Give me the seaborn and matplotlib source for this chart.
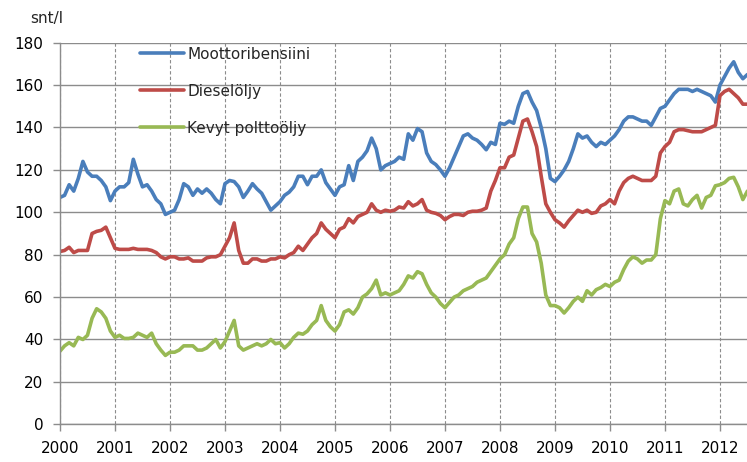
import numpy as np
import pandas as pd
import matplotlib
matplotlib.use("Agg")
import matplotlib.pyplot as plt
import seaborn as sns

# kuukausihinnat snt/l, tammikuu 2000 - heinäkuu 2012
alkuvuosi = 2000
bensiini = [
    107, 108, 113, 110, 116, 124, 119, 117, 117, 115, 112, 105.5,
    110, 112, 112, 114, 125, 118, 112, 113, 110, 106, 104, 99,
    100, 101, 106, 113.5, 112, 108, 111, 109, 111, 109, 106, 104,
    113.5, 115, 114.5, 112, 107, 110, 113.5, 111, 109, 105, 101, 103,
    105, 108, 109.5, 112, 117, 117, 113, 117, 117, 120, 114, 111,
    108, 112, 113, 122, 115, 124, 126, 129, 135, 130, 120, 122,
    123, 124, 126, 125, 137, 134, 139.5, 138, 128, 124, 122.5, 120,
    117, 121, 126, 131, 136, 137, 135, 134, 132, 129.5, 133, 132,
    142, 141.5, 143, 142, 150, 156, 157, 152, 148, 140, 130, 116,
    114.5, 117, 120, 124, 130, 137, 135, 136, 133, 131, 133, 132,
    134, 136, 139, 143, 145, 145, 144, 143, 143, 141, 145, 149,
    150, 153, 156, 158, 158, 158, 157, 158, 157, 156, 155, 152,
    160, 164, 168, 171, 166, 163, 165,
]
diesel = [
    81.5, 82, 83.5, 81, 82, 82, 82, 90, 91, 91.5, 93, 88,
    83, 82.5, 82.5, 82.5, 83, 82.5, 82.5, 82.5, 82, 81, 79, 78,
    79, 79, 78, 78, 78.5, 77, 77, 77, 78.5, 79, 79, 80,
    84, 88, 95, 82, 76, 76, 78, 78, 77, 77, 78, 78,
    79, 78.5, 80, 81, 84, 82, 85, 88, 90, 95, 92, 90,
    88, 92, 93, 97, 95, 98, 99, 100, 104, 101, 100, 101,
    100.5, 101, 102.5, 102, 105, 103, 104, 106, 101, 100, 99.5, 98.5,
    96.5, 98, 99, 99, 98.5, 100, 100.5, 100.5, 101, 102, 110, 115,
    121, 121, 126, 127, 135, 143, 144, 138, 131, 117, 104, 100,
    96.5, 95, 93, 96, 98.5, 101, 100, 101, 99.5, 100, 103, 104,
    106, 104, 110, 114, 116, 117, 116, 115, 115, 115, 117, 128,
    131, 133, 138, 139, 139, 138.5, 138, 138, 138, 139, 140, 141,
    155, 157, 158, 156, 154, 151, 151,
]
polttooljy = [
    34.5, 37, 38.5, 37, 41, 40, 42, 50, 54.5, 53, 50, 44,
    41, 42, 40.5, 40.5, 41, 43, 42, 41, 43, 38, 35, 32.5,
    34, 34, 35, 37, 37, 37, 35, 35, 36, 38, 40, 36,
    39, 44, 49, 37, 35, 36, 37, 38, 37, 38, 40, 38,
    38.5, 36, 38, 41, 43, 42.5, 44, 47, 49, 56, 49, 46,
    44, 47, 53, 54, 52, 55, 60, 61.5, 64, 68, 61, 62,
    61, 62, 63, 66, 70, 69, 72, 71, 66, 62, 60, 57,
    55, 57.5, 60, 61, 63, 64, 65, 67, 68, 69, 72, 75,
    78, 80, 85, 88, 97, 102.5, 102.5, 90, 86, 76, 61, 56,
    56, 55, 52.5, 55, 58, 60, 58, 63, 61, 63.5, 64.5, 66,
    65, 67, 68, 73, 77, 79, 78, 76, 77.5, 77.5, 80, 97,
    105.5, 104, 110, 111, 104, 103, 106, 108, 102, 107, 108, 112.5,
    113, 114, 116, 116.5, 112, 106, 110,
]
sarjat = ["Moottoribensiini", "Dieselöljy", "Kevyt polttoöljy"]
varit = ["#4a7ebb", "#be4b48", "#98b954"]
vuodet = list(range(2000, 2013))
y_ticks = list(range(0, 181, 20))

n = len(bensiini)
aika = alkuvuosi + np.arange(n) / 12
df = pd.DataFrame({
    "aika": np.tile(aika, 3),
    "hinta": bensiini + diesel + polttooljy,
    "laji": np.repeat(sarjat, n),
})

sns.set_style("white")
plt.rcParams["font.family"] = ["DejaVu Sans"]

fig = plt.figure(figsize=(7.47, 4.62), dpi=100)
ax = fig.add_axes([0.0803, 0.0816, 0.9203, 0.826])
sns.lineplot(data=df, x="aika", y="hinta", hue="laji", palette=varit,
             linewidth=2.6, ax=ax)

ax.set_xlim(2000, 2012.5)
ax.set_ylim(0, 180)
ax.set_xticks(vuodet)
ax.set_xticklabels([str(v) for v in vuodet])
ax.set_yticks(y_ticks)
ax.set_xlabel("")
ax.set_ylabel("")

ax.set_axisbelow(True)
ax.grid(axis="y", color="#8c8c8c", lw=1.0, ls="-")
ax.grid(axis="x", color="#8c8c8c", lw=0.8, ls=(0, (3, 2)))
for s in ["top", "right"]:
    ax.spines[s].set_visible(False)
for s in ["left", "bottom"]:
    ax.spines[s].set_color("#8c8c8c")
    ax.spines[s].set_linewidth(1.0)
ax.tick_params(axis="both", bottom=True, left=True, length=5, width=1,
               color="#8c8c8c", labelsize=11, pad=7, labelcolor="black")

handles, labels = ax.get_legend_handles_labels()
ax.legend(handles, labels, loc="upper left", bbox_to_anchor=(0.116, 0.99),
          frameon=False, handlelength=2.9, handletextpad=0.2,
          labelspacing=1.45, borderaxespad=0, borderpad=0, fontsize=11)

fig.text(30 / 747, 1 - 18 / 462, "snt/l", ha="left", va="center", fontsize=11)

fig.savefig("out.png", dpi=100)
